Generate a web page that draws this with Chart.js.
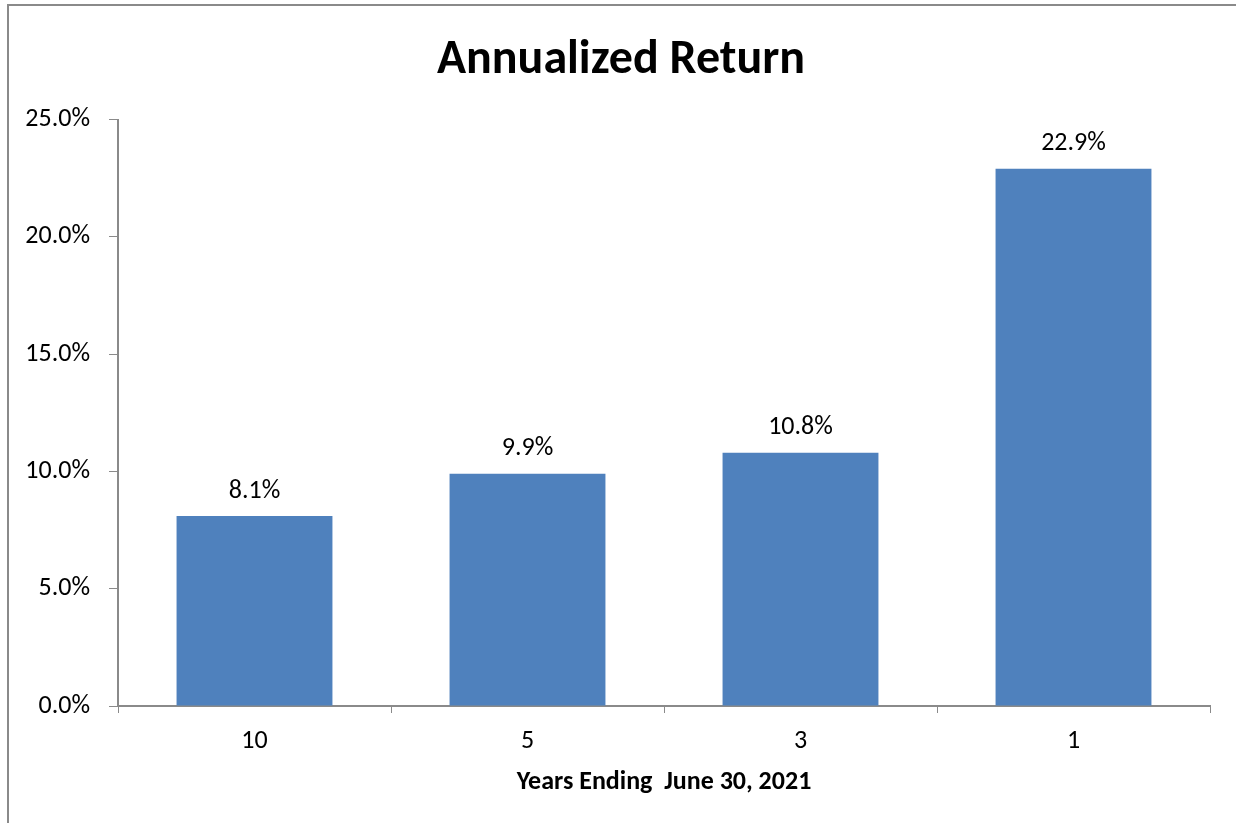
<!DOCTYPE html>
<html><head><meta charset="utf-8">
<script src="https://cdn.jsdelivr.net/npm/chart.js@4"></script>
<style>html,body{margin:0;padding:0;background:#fff}#wrap{width:1236px;height:823px}</style>
</head><body><div id="wrap"><canvas id="c" width="1236" height="823"></canvas></div>
<script>
const categories = ['10', '5', '3', '1'];
const returns = [8.1, 9.9, 10.8, 22.9];
const yTicks = [0, 5, 10, 15, 20, 25];
const titleText = 'Annualized Return';
const xTitle = 'Years Ending  June 30, 2021';
const FONT = "Carlito, 'Open Sans', sans-serif";

const frame = {
  id: 'frame',
  afterLayout(chart) {
    // centre the title over the whole frame, as in the original
    if (chart.titleBlock) { chart.titleBlock.left = 6; chart.titleBlock.right = 1236; }
  },
  beforeDraw(chart) {
    const ctx = chart.ctx;
    ctx.save();
    ctx.strokeStyle = '#8a8a8a';
    ctx.lineWidth = 2;
    ctx.beginPath();
    ctx.moveTo(8, 823); ctx.lineTo(8, 5); ctx.lineTo(1236, 5);
    ctx.stroke();
    ctx.restore();
  }
};
const valueLabels = {
  id: 'valueLabels',
  afterDatasetsDraw(chart) {
    const ctx = chart.ctx;
    const meta = chart.getDatasetMeta(0);
    ctx.save();
    ctx.font = '26px ' + FONT;
    ctx.fillStyle = '#000';
    ctx.textAlign = 'center';
    ctx.textBaseline = 'middle';
    meta.data.forEach((bar, i) => {
      ctx.fillText(returns[i].toFixed(1) + '%', bar.x, bar.y - 25);
    });
    ctx.restore();
  }
};

new Chart(document.getElementById('c'), {
  type: 'bar',
  data: {
    labels: categories,
    datasets: [{
      data: returns,
      backgroundColor: '#4F81BD',
      categoryPercentage: 1,
      barPercentage: 0.571
    }]
  },
  options: {
    responsive: false,
    animation: false,
    layout: { padding: { left: 0, right: 26, top: 0, bottom: 25 } },
    plugins: {
      legend: { display: false },
      tooltip: { enabled: false },
      title: {
        display: true, text: titleText, color: '#000',
        font: { family: FONT, size: 48, weight: 'bold' },
        padding: { top: 32, bottom: 30 }
      }
    },
    scales: {
      x: {
        afterFit(scale) { scale.height = 92; },
        grid: { drawOnChartArea: false, drawTicks: true, tickLength: 7, color: '#8a8a8a', offset: true },
        border: { color: '#8a8a8a', width: 2 },
        ticks: { color: '#000', font: { family: FONT, size: 26 }, padding: 13 },
        title: { display: true, text: xTitle, color: '#000', font: { family: FONT, size: 26, weight: 'bold' }, padding: { top: 4, bottom: 0 } }
      },
      y: {
        min: 0, max: 25,
        afterBuildTicks(scale) { scale.ticks = yTicks.map(v => ({ value: v })); },
        afterFit(scale) { scale.width = 118; },
        grid: { drawOnChartArea: false, drawTicks: true, tickLength: 9, color: '#8a8a8a' },
        border: { color: '#8a8a8a', width: 2 },
        ticks: { color: '#000', font: { family: FONT, size: 26 }, padding: 19,
          callback: v => v.toFixed(1) + '%' }
      }
    }
  },
  plugins: [frame, valueLabels]
});
</script></body></html>
